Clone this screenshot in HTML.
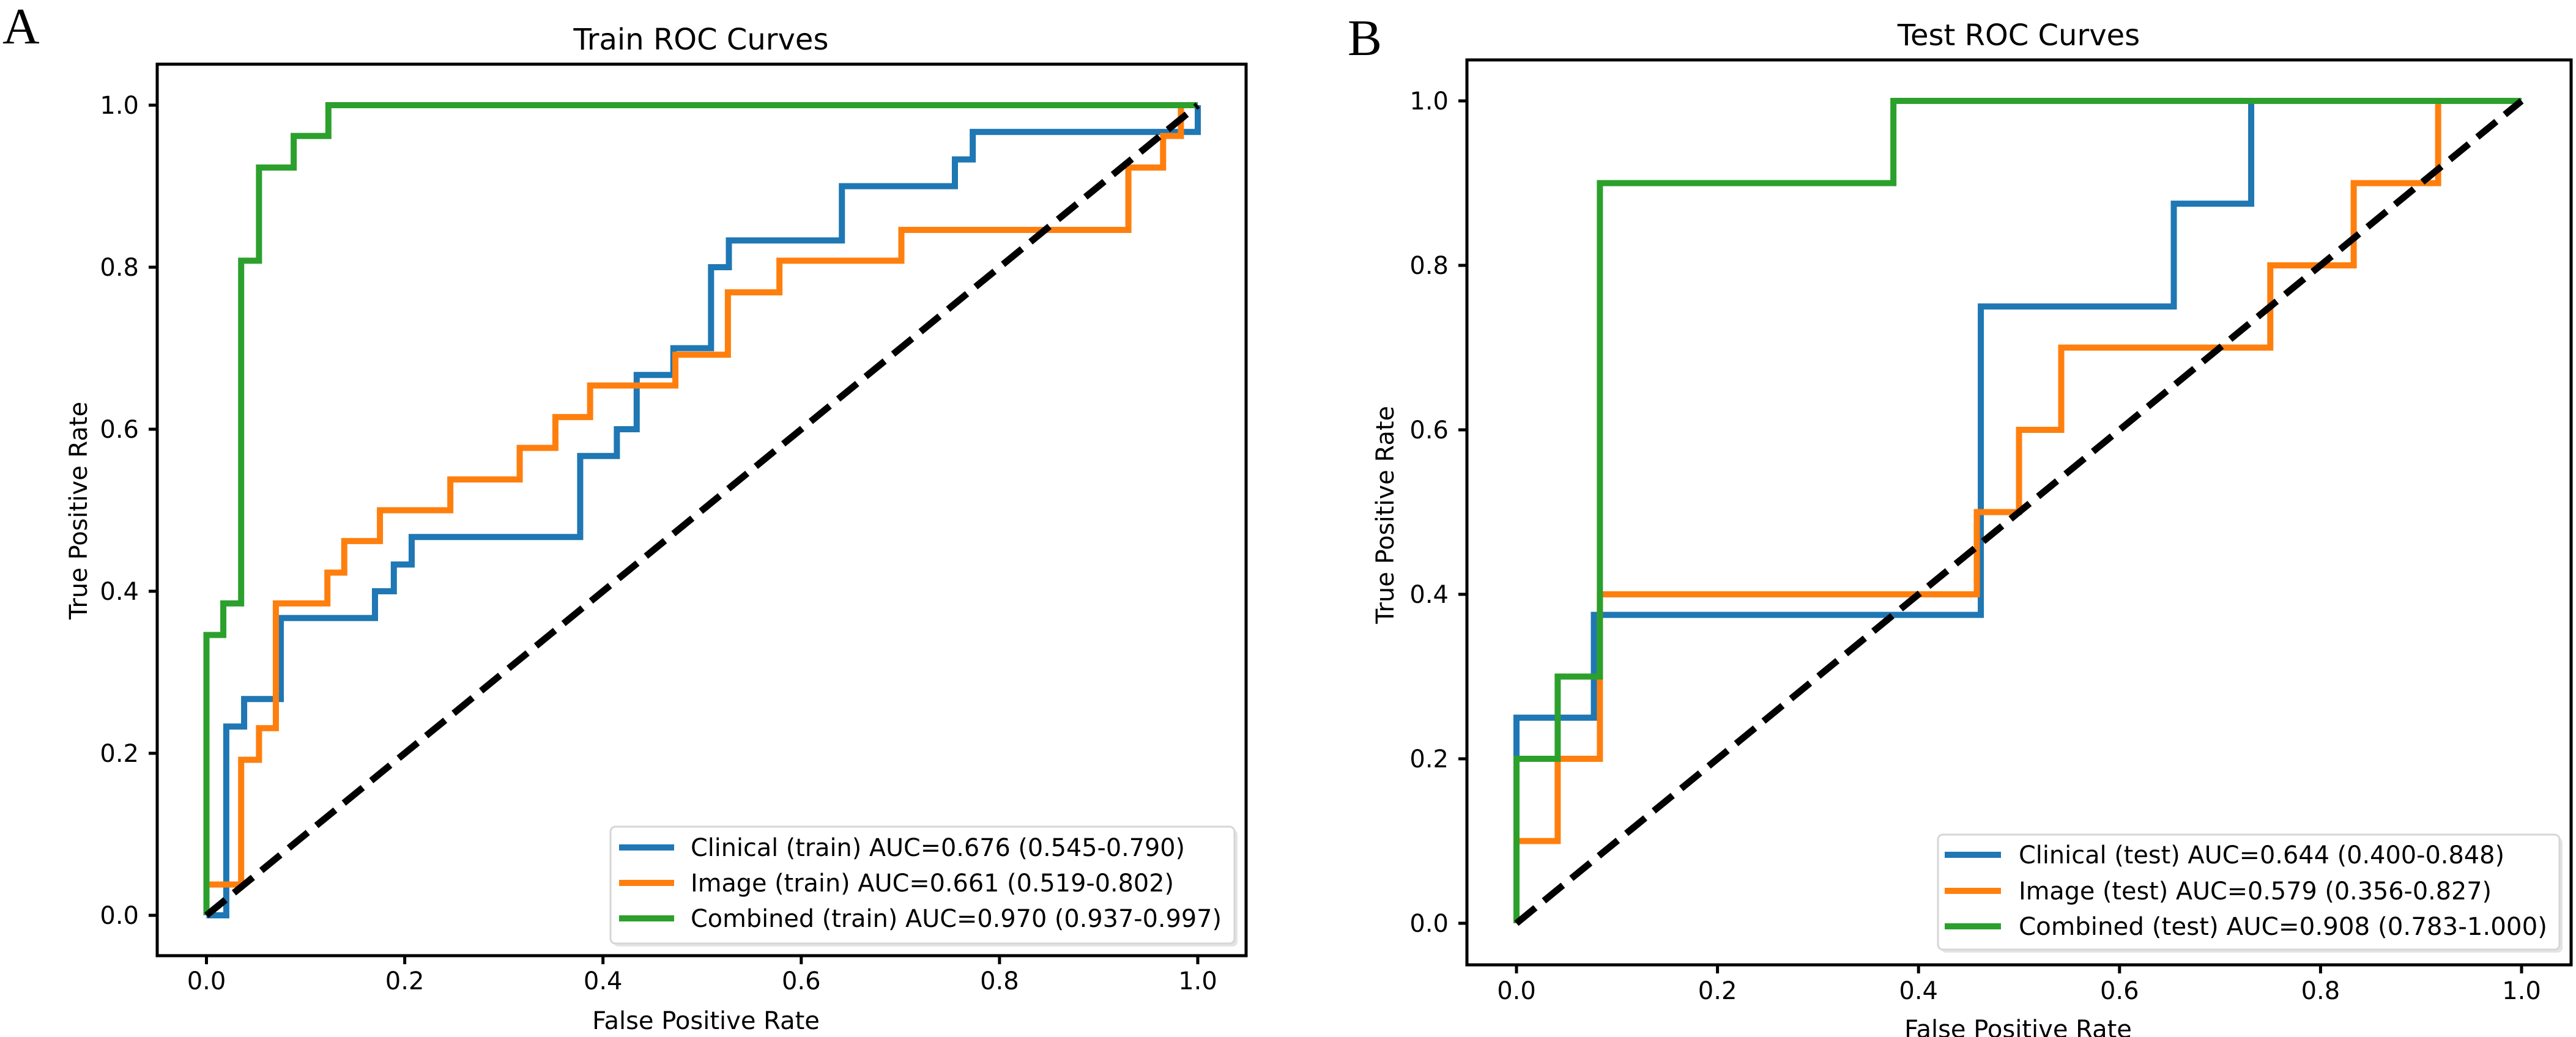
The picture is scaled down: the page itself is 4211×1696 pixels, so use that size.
<!DOCTYPE html>
<html>
<head>
<meta charset="utf-8">
<style>
  html, body { margin: 0; padding: 0; background: #ffffff; }
  svg { display: block; }
  text { font-family: "DejaVu Sans", "Liberation Sans", sans-serif; fill: #000; }
  .serif { font-family: "Liberation Serif", "DejaVu Serif", serif; }
</style>
</head>
<body>
<svg id="fig" width="4211" height="1696" viewBox="0 0 4211 1696" xmlns="http://www.w3.org/2000/svg">
  <rect x="0" y="0" width="4211" height="1696" fill="#ffffff"/>
  <text class="serif" x="4" y="71" font-size="84">A</text>
  <text class="serif" x="2203" y="90" font-size="84">B</text>
  <g id="panelA"></g>
  <g id="panelB"></g>
</svg>
<script>
// ---- Data ----
const tickValues = [0.0, 0.2, 0.4, 0.6, 0.8, 1.0];
const tickLabels = ["0.0", "0.2", "0.4", "0.6", "0.8", "1.0"];

const trainSeriesNames = ["Clinical (train)", "Image (train)", "Combined (train)"];
const trainLegendLabels = [
  "Clinical (train) AUC=0.676 (0.545-0.790)",
  "Image (train) AUC=0.661 (0.519-0.802)",
  "Combined (train) AUC=0.970 (0.937-0.997)"
];
const trainClinicalFpr = [0.02, 0.038, 0.075, 0.170, 0.189, 0.207, 0.377, 0.414, 0.434, 0.471, 0.509, 0.527, 0.641, 0.755, 0.773, 1.0];
const trainClinicalTpr = [0.233, 0.267, 0.367, 0.400, 0.433, 0.467, 0.567, 0.600, 0.667, 0.700, 0.800, 0.833, 0.900, 0.933, 0.967, 1.0];
const trainImageFpr = [0.0, 0.035, 0.053, 0.070, 0.122, 0.139, 0.175, 0.246, 0.316, 0.352, 0.387, 0.473, 0.526, 0.578, 0.701, 0.930, 0.965, 0.983];
const trainImageTpr = [0.038, 0.192, 0.231, 0.385, 0.423, 0.462, 0.500, 0.538, 0.577, 0.615, 0.654, 0.692, 0.769, 0.808, 0.846, 0.923, 0.962, 1.0];
const trainCombinedFpr = [0.0, 0.017, 0.035, 0.053, 0.088, 0.123];
const trainCombinedTpr = [0.346, 0.385, 0.808, 0.923, 0.962, 1.0];

const testSeriesNames = ["Clinical (test)", "Image (test)", "Combined (test)"];
const testLegendLabels = [
  "Clinical (test) AUC=0.644 (0.400-0.848)",
  "Image (test) AUC=0.579 (0.356-0.827)",
  "Combined (test) AUC=0.908 (0.783-1.000)"
];
const testClinicalFpr = [0.0, 0.077, 0.462, 0.654, 0.731];
const testClinicalTpr = [0.25, 0.375, 0.75, 0.875, 1.0];
const testImageFpr = [0.0, 0.041, 0.083, 0.458, 0.5, 0.542, 0.75, 0.833, 0.917];
const testImageTpr = [0.1, 0.2, 0.4, 0.5, 0.6, 0.7, 0.8, 0.9, 1.0];
const testCombinedFpr = [0.0, 0.041, 0.083, 0.375];
const testCombinedTpr = [0.2, 0.3, 0.9, 1.0];

const NS = "http://www.w3.org/2000/svg";
const COLORS = ["#1f77b4", "#ff7f0e", "#2ca02c"];

function mk(parent, tag, attrs) {
  const el = document.createElementNS(NS, tag);
  for (const k in attrs) el.setAttribute(k, attrs[k]);
  parent.appendChild(el);
  return el;
}

function drawPanel(g, cfg, series, names, legendLabels, key) {
  const sx = v => cfg.x0 + v * (cfg.x1 - cfg.x0);
  const sy = v => cfg.y0 - v * (cfg.y0 - cfg.y1);

  // plot background
  const bg = mk(g, "rect", {x: cfg.left, y: cfg.top, width: cfg.right - cfg.left, height: cfg.bottom - cfg.top, fill: "#fff"});
  
  

  // curves
  series.forEach((s, i) => {
    let d = "M" + sx(0) + "," + sy(0);
    let py = 0;
    for (let j = 0; j < s.fpr.length; j++) {
      d += " L" + sx(s.fpr[j]) + "," + sy(py);
      d += " L" + sx(s.fpr[j]) + "," + sy(s.tpr[j]);
      py = s.tpr[j];
    }
    d += " L" + sx(1) + "," + sy(py) + " L" + sx(1) + "," + sy(1);
    const p = mk(g, "path", {d: d, fill: "none", stroke: COLORS[i], "stroke-width": 10, "stroke-linejoin": "miter"});
    
    
  });

  // chance diagonal
  const diag = mk(g, "line", {x1: sx(0), y1: sy(0), x2: sx(1), y2: sy(1), stroke: "#000", "stroke-width": 11, "stroke-dasharray": "40 18"});
  
  

  // frame
  const fr = mk(g, "rect", {x: cfg.left, y: cfg.top, width: cfg.right - cfg.left, height: cfg.bottom - cfg.top, fill: "none", stroke: "#000", "stroke-width": 5});
  
  

  // ticks
  tickValues.forEach((v, i) => {
    const tx = mk(g, "line", {x1: sx(v), y1: cfg.bottom, x2: sx(v), y2: cfg.bottom + 14, stroke: "#000", "stroke-width": 5});
    
    
    const lx = mk(g, "text", {x: sx(v), y: cfg.xTickBase, "font-size": 40, "text-anchor": "middle"});
    lx.textContent = tickLabels[i];
    
    

    const ty = mk(g, "line", {x1: cfg.left - 14, y1: sy(v), x2: cfg.left, y2: sy(v), stroke: "#000", "stroke-width": 5});
    
    
    const ly = mk(g, "text", {x: cfg.left - 30, y: sy(v) + 14, "font-size": 40, "text-anchor": "end"});
    ly.textContent = tickLabels[i];
    
    
  });

  // title & axis labels
  const t = mk(g, "text", {x: cfg.titleX, y: cfg.titleY, "font-size": 48, "text-anchor": "middle"});
  t.textContent = cfg.title;
  
  

  const xl = mk(g, "text", {x: cfg.xLabelX, y: cfg.xLabelY, "font-size": 40, "text-anchor": "middle"});
  xl.textContent = "False Positive Rate";
  
  

  const yl = mk(g, "text", {x: 0, y: 0, "font-size": 40, "text-anchor": "middle", transform: "translate(" + cfg.yLabelX + "," + cfg.yLabelY + ") rotate(-90)"});
  yl.textContent = "True Positive Rate";
  
  

  // legend
  const lg = mk(g, "g", {});
  
  
  const L = cfg.legend;
  const sh = mk(lg, "rect", {x: L.x + 5, y: L.y + 5, width: L.w, height: L.h, rx: 8, fill: "#e4e4e4"});
  
  
  const box = mk(lg, "rect", {x: L.x, y: L.y, width: L.w, height: L.h, rx: 8, fill: "#fff", stroke: "#d6d6d6", "stroke-width": 3});
  
  
  legendLabels.forEach((lab, i) => {
    const ry = L.rows[i];
    const h = mk(lg, "line", {x1: L.hx1, y1: ry, x2: L.hx2, y2: ry, stroke: COLORS[i], "stroke-width": 10});
    
    
    const tx = mk(lg, "text", {x: L.tx, y: ry + 14, "font-size": 40, textLength: L.tw[i], lengthAdjust: "spacingAndGlyphs"});
    tx.textContent = lab;
    
    
  });
}

const cfgA = {
  left: 257, right: 2037, top: 105, bottom: 1563,
  x0: 337.5, x1: 1958, y0: 1497, y1: 172,
  xTickBase: 1618, title: "Train ROC Curves", titleX: 1146, titleY: 81,
  xLabelX: 1154, xLabelY: 1683, yLabelX: 142, yLabelY: 835,
  legend: {x: 998, y: 1352, w: 1020, h: 191, rows: [1386, 1444, 1502], hx1: 1012, hx2: 1102, tx: 1129, tw: [808, 790, 868]}
};
const cfgB = {
  left: 2398, right: 4203, top: 98, bottom: 1578,
  x0: 2479, x1: 4122, y0: 1510, y1: 165,
  xTickBase: 1634, title: "Test ROC Curves", titleX: 3300, titleY: 74,
  xLabelX: 3299, xLabelY: 1697, yLabelX: 2278, yLabelY: 842,
  legend: {x: 3168, y: 1365, w: 1016, h: 188, rows: [1398, 1457, 1515], hx1: 3179, hx2: 3271, tx: 3300, tw: [794, 773, 864]}
};

drawPanel(document.getElementById("panelA"), cfgA, [
  {fpr: trainClinicalFpr, tpr: trainClinicalTpr},
  {fpr: trainImageFpr, tpr: trainImageTpr},
  {fpr: trainCombinedFpr, tpr: trainCombinedTpr}
], trainSeriesNames, trainLegendLabels, "train");

drawPanel(document.getElementById("panelB"), cfgB, [
  {fpr: testClinicalFpr, tpr: testClinicalTpr},
  {fpr: testImageFpr, tpr: testImageTpr},
  {fpr: testCombinedFpr, tpr: testCombinedTpr}
], testSeriesNames, testLegendLabels, "test");
</script>
</body>
</html>
